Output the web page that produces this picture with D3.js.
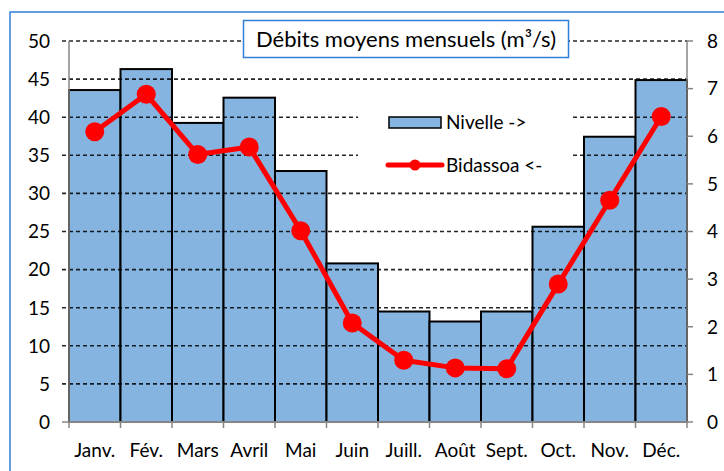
<!DOCTYPE html>
<html><head><meta charset="utf-8">
<script src="https://cdn.jsdelivr.net/npm/d3@7"></script>
<style>body{margin:0;background:#fff}svg{display:block}</style>
</head><body>
<svg id="c" width="724" height="471"></svg>
<script>
const months = ["Janv.","Fév.","Mars","Avril","Mai","Juin","Juill.","Août","Sept.","Oct.","Nov.","Déc."];
const nivelle = [6.97,7.41,6.28,6.81,5.27,3.33,2.32,2.11,2.32,4.10,5.99,7.18];
const bidassoa = [38.1,43.0,35.1,36.1,25.1,13.0,8.1,7.1,7.0,18.1,29.1,40.1];
const leftTicks = [0,5,10,15,20,25,30,35,40,45,50];
const rightTicks = [0,1,2,3,4,5,6,7,8];
const title = "Débits moyens mensuels (m³/s)";
const legendBars = "Nivelle ->";
const legendLine = "Bidassoa <-";

const font = "Lato, 'Open Sans', sans-serif";
const fs = 19;
const svg = d3.select("#c");
const L = 69, R = 687, T = 41, B = 422;
const x = d3.scaleBand().domain(months).range([L, R]).padding(0);
const yL = d3.scaleLinear().domain([0, 50]).range([B, T]);
const yR = d3.scaleLinear().domain([0, 8]).range([B, T]);

// outer frame
svg.append("rect").attr("x", 10).attr("y", 12).attr("width", 730).attr("height", 480)
  .attr("fill", "#fff").attr("stroke", "#2f7fd6").attr("stroke-width", 1.5);

// bars
svg.append("g").selectAll("rect").data(months).join("rect")
  .attr("x", d => x(d)).attr("width", x.bandwidth())
  .attr("y", (d, i) => yR(nivelle[i])).attr("height", (d, i) => B - yR(nivelle[i]))
  .attr("fill", "#85b4e0").attr("stroke", "#000").attr("stroke-width", 2);

// gridlines (left axis)
svg.append("g").selectAll("line").data(leftTicks.filter(t => t > 0)).join("line")
  .attr("x1", L - 7).attr("x2", R).attr("y1", d => yL(d)).attr("y2", d => yL(d))
  .attr("stroke", "#000").attr("stroke-opacity", 0.85).attr("stroke-width", 1.6)
  .attr("stroke-dasharray", "4,3");

// axes
const axisColor = "#868686";
svg.append("line").attr("x1", L).attr("x2", L).attr("y1", T).attr("y2", B).attr("stroke", axisColor).attr("stroke-width", 1.5);
svg.append("line").attr("x1", R).attr("x2", R).attr("y1", T).attr("y2", B).attr("stroke", axisColor).attr("stroke-width", 1.5);
svg.append("line").attr("x1", L - 7).attr("x2", L).attr("y1", B).attr("y2", B).attr("stroke", axisColor).attr("stroke-width", 1.5);
svg.append("g").selectAll("line").data(rightTicks).join("line")
  .attr("x1", R).attr("x2", R + 6).attr("y1", d => yR(d)).attr("y2", d => yR(d))
  .attr("stroke", axisColor).attr("stroke-width", 1.5);
const bounds = months.map(m => x(m)).concat([R]);
svg.append("g").selectAll("line").data(bounds).join("line")
  .attr("x1", d => d).attr("x2", d => d).attr("y1", B).attr("y2", B + 6)
  .attr("stroke", axisColor).attr("stroke-width", 1.5);
svg.append("line").attr("x1", L).attr("x2", R + 1).attr("y1", B).attr("y2", B).attr("stroke", axisColor).attr("stroke-width", 2.2);

// tick labels
svg.append("g").selectAll("text").data(leftTicks).join("text")
  .attr("x", 50).attr("y", d => yL(d)).attr("dy", "0.36em").attr("text-anchor", "end")
  .attr("font-family", font).attr("font-size", fs).attr("fill", "#000").text(d => d);
svg.append("g").selectAll("text").data(rightTicks).join("text")
  .attr("x", 707).attr("y", d => yR(d)).attr("dy", "0.36em").attr("text-anchor", "start")
  .attr("font-family", font).attr("font-size", fs).attr("fill", "#000").text(d => d);
svg.append("g").selectAll("text").data(months).join("text")
  .attr("x", d => x(d) + x.bandwidth() / 2).attr("y", 457).attr("text-anchor", "middle")
  .attr("font-family", font).attr("font-size", fs).attr("fill", "#000").text(d => d);

// legend background
svg.append("rect").attr("x", 358).attr("y", 100).attr("width", 215).attr("height", 75).attr("fill", "#fff");

// line
const line = d3.line().x((d, i) => x(months[i]) + x.bandwidth() / 2).y(d => yL(d));
svg.append("path").datum(bidassoa).attr("d", line).attr("fill", "none")
  .attr("stroke", "#ff0000").attr("stroke-width", 5).attr("stroke-linejoin", "round");
svg.append("g").selectAll("circle").data(bidassoa).join("circle")
  .attr("cx", (d, i) => x(months[i]) + x.bandwidth() / 2).attr("cy", d => yL(d)).attr("r", 9.5)
  .attr("fill", "#ff0000");

// legend
svg.append("rect").attr("x", 389).attr("y", 117).attr("width", 52).attr("height", 11)
  .attr("fill", "#85b4e0").attr("stroke", "#000").attr("stroke-width", 1.5);
svg.append("text").attr("x", 446).attr("y", 122).attr("dy", "0.36em")
  .attr("font-family", font).attr("font-size", fs).text(legendBars);
svg.append("line").attr("x1", 388).attr("x2", 442).attr("y1", 165).attr("y2", 165)
  .attr("stroke", "#ff0000").attr("stroke-width", 5).attr("stroke-linecap", "round");
svg.append("circle").attr("cx", 415).attr("cy", 165).attr("r", 5.5).attr("fill", "#ff0000");
svg.append("text").attr("x", 446).attr("y", 165).attr("dy", "0.36em")
  .attr("font-family", font).attr("font-size", fs).text(legendLine);

// title box
svg.append("rect").attr("x", 243.5).attr("y", 20.5).attr("width", 325).attr("height", 37)
  .attr("fill", "#fff").attr("stroke", "#2f7fd6").attr("stroke-width", 1.5);
svg.append("text").attr("x", 406).attr("y", 39).attr("dy", "0.36em").attr("text-anchor", "middle")
  .attr("font-family", font).attr("font-size", 22).text(title);
</script>
</body></html>
